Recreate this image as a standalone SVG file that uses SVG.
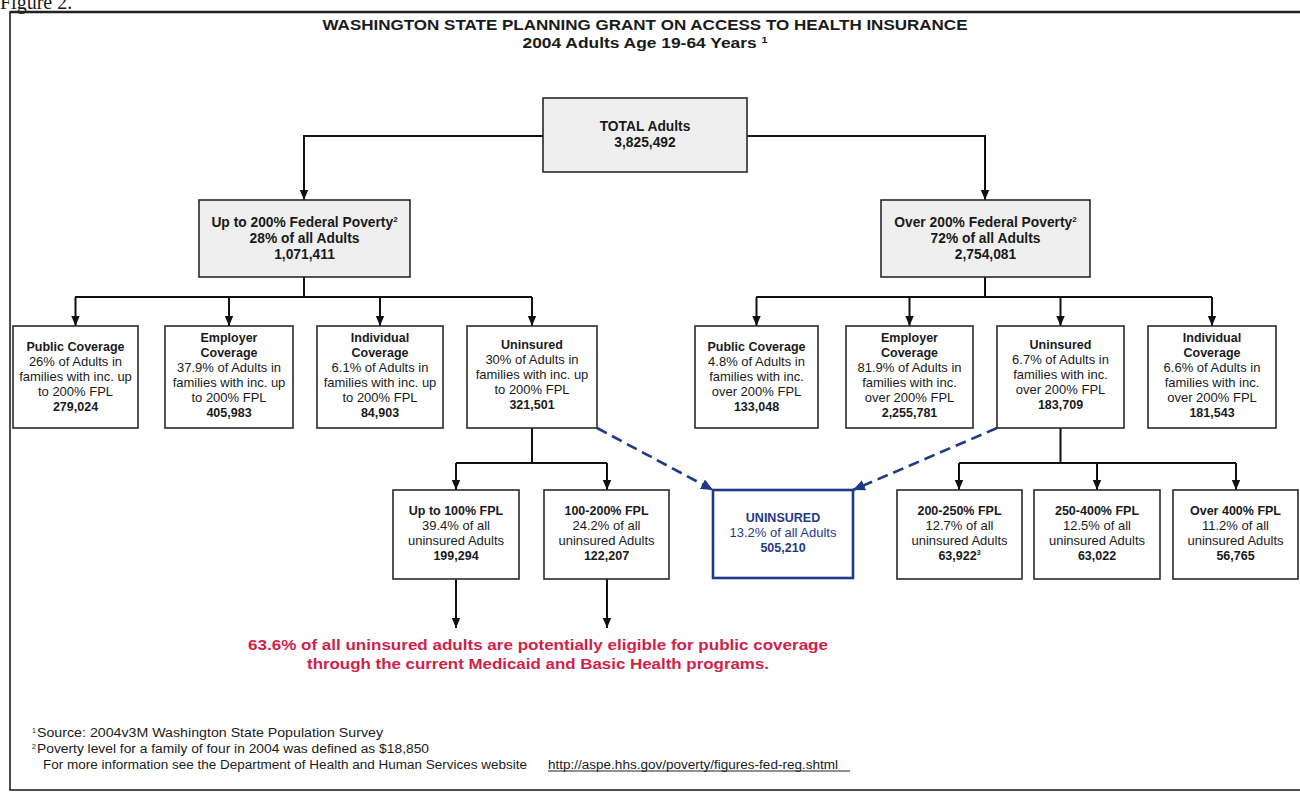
<svg xmlns="http://www.w3.org/2000/svg" width="1300" height="792" viewBox="0 0 1300 792">
<defs>
<marker id="ah" markerUnits="userSpaceOnUse" markerWidth="10" markerHeight="10" viewBox="0 0 10 10" refX="10" refY="5" orient="auto">
<path d="M0,0.8 L10,5 L0,9.2 Z" fill="#111"/>
</marker>
<marker id="ahb" markerUnits="userSpaceOnUse" markerWidth="12" markerHeight="12" viewBox="0 0 10 10" refX="10" refY="5" orient="auto">
<path d="M0,0.5 L10,5 L0,9.5 Z" fill="#1f3a85"/>
</marker>
</defs>
<style>
text{font-family:"Liberation Sans",Arial,sans-serif;fill:#1a1a1a;text-anchor:middle}
.t{font-size:14.5px;font-weight:bold}
.b2{font-size:13.8px;font-weight:bold}
.h{font-size:12.5px;font-weight:bold}
.n{font-size:13px}
.box{fill:#fff;stroke:#2a2a2a;stroke-width:1.6}
.gbox{fill:#efefef;stroke:#2a2a2a;stroke-width:1.6}
.ubox{fill:#fff;stroke:#1f3a85;stroke-width:2.6}
.u{fill:#1f3a85}
.c{fill:none;stroke:#111;stroke-width:2}
.ca{fill:none;stroke:#111;stroke-width:2;marker-end:url(#ah)}
.d{fill:none;stroke:#1f3a85;stroke-width:2.6;stroke-dasharray:11 6;marker-end:url(#ahb)}
.red{fill:#d01f4a;font-size:15.5px;font-weight:bold}
.f{font-size:12.5px;text-anchor:start}
</style>
<rect width="1300" height="792" fill="#fff"/>
<text x="0" y="9" style="font-family:'Liberation Serif',serif;font-size:20px;text-anchor:start">Figure 2.</text>
<rect x="10" y="12" width="1300" height="778" fill="none" stroke="#222" stroke-width="1.6"/>
<line x1="10" y1="12" x2="1300" y2="12" stroke="#222" stroke-width="2.5"/>
<g id="title">
<text class="t" x="645" y="30" textLength="645" lengthAdjust="spacingAndGlyphs">WASHINGTON STATE PLANNING GRANT ON ACCESS TO HEALTH INSURANCE</text>
<text class="t" x="645" y="48" textLength="245" lengthAdjust="spacingAndGlyphs">2004 Adults Age 19-64 Years <tspan font-size="9" dy="-5">1</tspan></text>
</g>
<g id="connectors">
<path class="ca" d="M543,136 H304 V200"/>
<path class="ca" d="M747,136 H985 V200"/>
<path class="c" d="M304,277 V297 M75,297 H532"/>
<path class="ca" d="M75.5,297 V326"/>
<path class="ca" d="M229,297 V326"/>
<path class="ca" d="M380,297 V326"/>
<path class="ca" d="M532,297 V326"/>
<path class="c" d="M985,277 V297 M756,297 H1212"/>
<path class="ca" d="M756.5,297 V326"/>
<path class="ca" d="M909.5,297 V326"/>
<path class="ca" d="M1060.5,297 V326"/>
<path class="ca" d="M1212,297 V326"/>
<path class="c" d="M532,428 V463 M456,463 H607"/>
<path class="ca" d="M456,463 V490"/>
<path class="ca" d="M607,463 V490"/>
<path class="c" d="M1060.5,428 V463 M959,463 H1236"/>
<path class="ca" d="M959,463 V490"/>
<path class="ca" d="M1097,463 V490"/>
<path class="ca" d="M1236,463 V490"/>
<path class="ca" d="M456,579 V628"/>
<path class="ca" d="M607,579 V628"/>
<path class="d" d="M597,428 L713,490"/>
<path class="d" d="M997,428 L853,490"/>
</g>
<g id="total">
<rect class="gbox" x="543" y="98" width="204" height="74"/>
<text class="b2" x="645" y="131">TOTAL Adults</text>
<text class="b2" x="645" y="147">3,825,492</text>
</g>
<g id="up200">
<rect class="gbox" x="199" y="200" width="211" height="77"/>
<text class="b2" x="304.5" y="227">Up to 200% Federal Poverty<tspan font-size="8" dy="-5">2</tspan></text>
<text class="b2" x="304.5" y="243">28% of all Adults</text>
<text class="b2" x="304.5" y="259">1,071,411</text>
</g>
<g id="over200">
<rect class="gbox" x="881" y="200" width="209" height="77"/>
<text class="b2" x="985.5" y="227">Over 200% Federal Poverty<tspan font-size="8" dy="-5">2</tspan></text>
<text class="b2" x="985.5" y="243">72% of all Adults</text>
<text class="b2" x="985.5" y="259">2,754,081</text>
</g>
<g id="l-public">
<rect class="box" x="13" y="326" width="125" height="102"/>
<text class="h" x="75.5" y="351">Public Coverage</text>
<text class="n" x="75.5" y="366">26%  of Adults in</text>
<text class="n" x="75.5" y="381">families with inc. up</text>
<text class="n" x="75.5" y="396">to 200% FPL</text>
<text class="h" x="75.5" y="411">279,024</text>
</g>
<g id="l-employer">
<rect class="box" x="165" y="326" width="128" height="102"/>
<text class="h" x="229" y="342">Employer</text>
<text class="h" x="229" y="357">Coverage</text>
<text class="n" x="229" y="372">37.9% of Adults in</text>
<text class="n" x="229" y="387">families with inc. up</text>
<text class="n" x="229" y="402">to 200% FPL</text>
<text class="h" x="229" y="417">405,983</text>
</g>
<g id="l-individual">
<rect class="box" x="317" y="326" width="126" height="102"/>
<text class="h" x="380" y="342">Individual</text>
<text class="h" x="380" y="357">Coverage</text>
<text class="n" x="380" y="372">6.1% of Adults in</text>
<text class="n" x="380" y="387">families with inc. up</text>
<text class="n" x="380" y="402">to 200% FPL</text>
<text class="h" x="380" y="417">84,903</text>
</g>
<g id="l-uninsured">
<rect class="box" x="467" y="326" width="130" height="102"/>
<text class="h" x="532" y="349">Uninsured</text>
<text class="n" x="532" y="364">30% of Adults in</text>
<text class="n" x="532" y="379">families with inc. up</text>
<text class="n" x="532" y="394">to 200% FPL</text>
<text class="h" x="532" y="409">321,501</text>
</g>
<g id="r-public">
<rect class="box" x="695" y="326" width="123" height="102"/>
<text class="h" x="756.5" y="351">Public Coverage</text>
<text class="n" x="756.5" y="366">4.8% of Adults in</text>
<text class="n" x="756.5" y="381">families with inc.</text>
<text class="n" x="756.5" y="396">over 200% FPL</text>
<text class="h" x="756.5" y="411">133,048</text>
</g>
<g id="r-employer">
<rect class="box" x="846" y="326" width="127" height="102"/>
<text class="h" x="909.5" y="342">Employer</text>
<text class="h" x="909.5" y="357">Coverage</text>
<text class="n" x="909.5" y="372">81.9% of Adults in</text>
<text class="n" x="909.5" y="387">families with inc.</text>
<text class="n" x="909.5" y="402">over 200% FPL</text>
<text class="h" x="909.5" y="417">2,255,781</text>
</g>
<g id="r-uninsured">
<rect class="box" x="997" y="326" width="127" height="102"/>
<text class="h" x="1060.5" y="349">Uninsured</text>
<text class="n" x="1060.5" y="364">6.7% of Adults in</text>
<text class="n" x="1060.5" y="379">families with inc.</text>
<text class="n" x="1060.5" y="394">over 200% FPL</text>
<text class="h" x="1060.5" y="409">183,709</text>
</g>
<g id="r-individual">
<rect class="box" x="1148" y="326" width="128" height="102"/>
<text class="h" x="1212" y="342">Individual</text>
<text class="h" x="1212" y="357">Coverage</text>
<text class="n" x="1212" y="372">6.6% of Adults in</text>
<text class="n" x="1212" y="387">families with inc.</text>
<text class="n" x="1212" y="402">over 200% FPL</text>
<text class="h" x="1212" y="417">181,543</text>
</g>
<g id="up100">
<rect class="box" x="393" y="490" width="126" height="89"/>
<text class="h" x="456" y="515">Up to 100% FPL</text>
<text class="n" x="456" y="530">39.4% of all</text>
<text class="n" x="456" y="545">uninsured Adults</text>
<text class="h" x="456" y="560">199,294</text>
</g>
<g id="fpl100-200">
<rect class="box" x="544" y="490" width="125" height="89"/>
<text class="h" x="606.5" y="515">100-200% FPL</text>
<text class="n" x="606.5" y="530">24.2% of all</text>
<text class="n" x="606.5" y="545">uninsured Adults</text>
<text class="h" x="606.5" y="560">122,207</text>
</g>
<g id="uninsured-total">
<rect class="ubox" x="713" y="490" width="140" height="88"/>
<text class="h u" x="783" y="522">UNINSURED</text>
<text class="n u" x="783" y="537">13.2% of all Adults</text>
<text class="h u" x="783" y="552">505,210</text>
</g>
<g id="fpl200-250">
<rect class="box" x="897" y="490" width="125" height="89"/>
<text class="h" x="959.5" y="515">200-250% FPL</text>
<text class="n" x="959.5" y="530">12.7% of all</text>
<text class="n" x="959.5" y="545">uninsured Adults</text>
<text class="h" x="959.5" y="560">63,922<tspan font-size="7" dy="-5">3</tspan></text>
</g>
<g id="fpl250-400">
<rect class="box" x="1034" y="490" width="126" height="89"/>
<text class="h" x="1097" y="515">250-400% FPL</text>
<text class="n" x="1097" y="530">12.5% of all</text>
<text class="n" x="1097" y="545">uninsured Adults</text>
<text class="h" x="1097" y="560">63,022</text>
</g>
<g id="over400">
<rect class="box" x="1173" y="490" width="125" height="89"/>
<text class="h" x="1235.5" y="515">Over 400% FPL</text>
<text class="n" x="1235.5" y="530">11.2% of all</text>
<text class="n" x="1235.5" y="545">uninsured Adults</text>
<text class="h" x="1235.5" y="560">56,765</text>
</g>
<g id="note">
<text class="red" x="538" y="650" textLength="580" lengthAdjust="spacingAndGlyphs">63.6% of all uninsured adults are potentially eligible for public coverage</text>
<text class="red" x="538" y="669" textLength="462" lengthAdjust="spacingAndGlyphs">through the current Medicaid and Basic Health programs.</text>
</g>
<g id="footnotes">
<text class="f" x="32" y="737"><tspan font-size="7" dy="-4">1</tspan><tspan dy="4" x="37" textLength="346" lengthAdjust="spacingAndGlyphs">Source:  2004v3M  Washington State Population Survey</tspan></text>
<text class="f" x="32" y="753"><tspan font-size="7" dy="-4">2</tspan><tspan dy="4" x="37" textLength="392" lengthAdjust="spacingAndGlyphs">Poverty level for a family of four in 2004 was defined as $18,850</tspan></text>
<text class="f" x="43" y="769" textLength="484" lengthAdjust="spacingAndGlyphs">For more information see the Department of Health and Human Services website</text>
<text class="f" x="548" y="769" textLength="290" lengthAdjust="spacingAndGlyphs">http://aspe.hhs.gov/poverty/figures-fed-reg.shtml</text>
<line x1="548" y1="771" x2="850" y2="771" stroke="#222" stroke-width="1"/>
</g>
</svg>
